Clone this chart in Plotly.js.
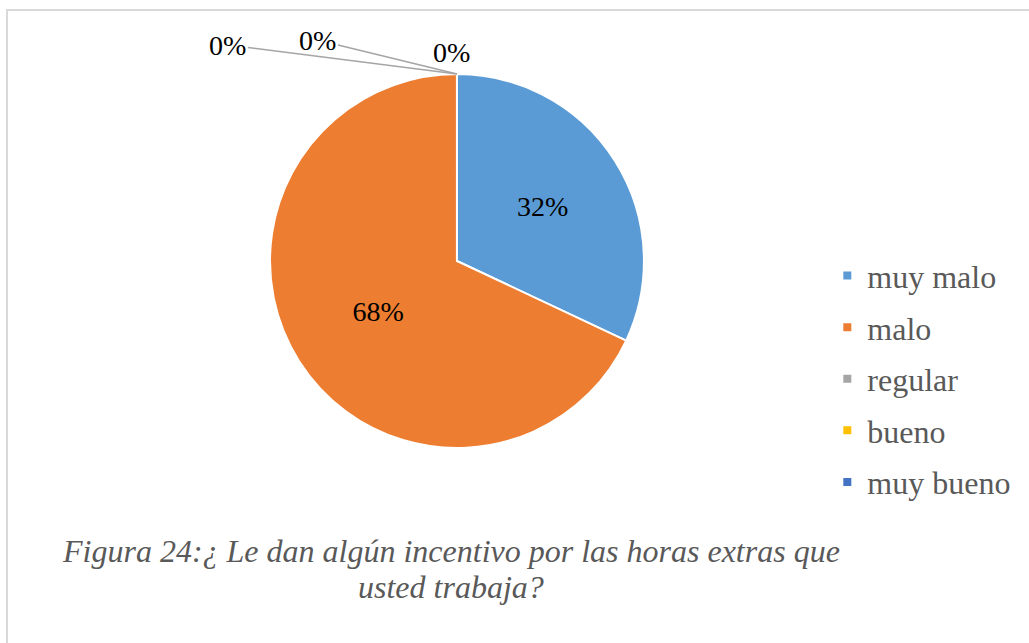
<!DOCTYPE html>
<html>
<head>
<meta charset="utf-8">
<script src="https://cdn.plot.ly/plotly-3.0.1.min.js"></script>
<style>
  html, body { margin: 0; padding: 0; background: #ffffff; }
  #frame { position: absolute; left: 6px; top: 9px; width: 1100px; height: 700px; border: 2px solid #d9d9d9; box-sizing: border-box; }
  #chart { position: absolute; left: 0; top: 0; width: 1029px; height: 643px; }
</style>
</head>
<body>
<div id="frame"></div>
<div id="chart"></div>
<script>
const categories = ["muy malo", "malo", "regular", "bueno", "muy bueno"];
const values = [32, 68, 0, 0, 0];
const colors = ["#5B9BD5", "#ED7D31", "#A5A5A5", "#FFC000", "#4472C4"];
const captionLines = ["Figura 24:¿ Le dan algún incentivo por las horas extras que", "usted trabaja?"];

const total = values.reduce((a, b) => a + b, 0);
const pctText = values.map(v => Math.round(v / total * 100) + "%");

const pieDomain = { x: [0.2624, 0.6258], y: [0.3033, 0.8849] };
const serif = "'Liberation Serif', 'Times New Roman', serif";

const pie = {
  type: "pie",
  labels: categories,
  values: values,
  sort: false,
  direction: "clockwise",
  rotation: 0,
  marker: { colors: colors, line: { color: "#ffffff", width: 2 } },
  text: pctText,
  textinfo: "text",
  textposition: "inside",
  insidetextorientation: "horizontal",
  insidetextfont: { family: serif, size: 28, color: "#000000" },
  domain: pieDomain,
  showlegend: false,
  hoverinfo: "label+percent"
};

// legend entries (square markers) built from the category arrays
const legendTraces = categories.map((c, i) => ({
  type: "scatter",
  x: [null], y: [null],
  mode: "markers",
  name: c,
  legendgroup: "g" + i,
  marker: { symbol: "square", size: 8, color: colors[i] },
  showlegend: true,
  hoverinfo: "skip"
}));

// labels for zero-valued slices, placed at pie top with leader lines
const topX = (pieDomain.x[0] + pieDomain.x[1]) / 2;
const topY = pieDomain.y[1];
const zeroOffsets = [[-229, -29, true], [-139, -34, true], [-5, -22, false]];
const annotations = [];
let zi = 0;
values.forEach((v, i) => {
  if (v === 0 && zi < zeroOffsets.length) {
    const o = zeroOffsets[zi++];
    annotations.push({
      x: topX, y: topY, xref: "paper", yref: "paper",
      text: pctText[i],
      showarrow: true,
      arrowhead: 0, arrowwidth: 1.5, arrowcolor: o[2] ? "#A5A5A5" : "rgba(0,0,0,0)",
      ax: o[0], ay: o[1],
      standoff: 0,
      font: { family: serif, size: 28, color: "#000000" }
    });
  }
});

// caption lines under the chart
const captionY = [0.1431, 0.0871];
captionLines.forEach((t, i) => {
  annotations.push({
    x: 0.438, y: captionY[i], xref: "paper", yref: "paper",
    xanchor: "center", yanchor: "middle",
    text: t, showarrow: false,
    font: { family: serif, size: 32, color: "#595959", style: "italic" }
  });
});

const layout = {
  width: 1029, height: 643,
  margin: { l: 0, r: 0, t: 0, b: 0 },
  paper_bgcolor: "rgba(0,0,0,0)",
  plot_bgcolor: "rgba(0,0,0,0)",
  xaxis: { visible: false, domain: [0.95, 1], fixedrange: true },
  yaxis: { visible: false, domain: [0.95, 1], fixedrange: true },
  showlegend: true,
  legend: {
    x: 0.804, y: 0.411, xanchor: "left", yanchor: "middle",
    font: { family: serif, size: 32, color: "#595959" },
    tracegroupgap: 7,
    itemwidth: 30,
    bgcolor: "rgba(0,0,0,0)"
  },
  annotations: annotations
};

Plotly.newPlot("chart", [pie].concat(legendTraces), layout, { displayModeBar: false, staticPlot: true });
</script>
</body>
</html>
